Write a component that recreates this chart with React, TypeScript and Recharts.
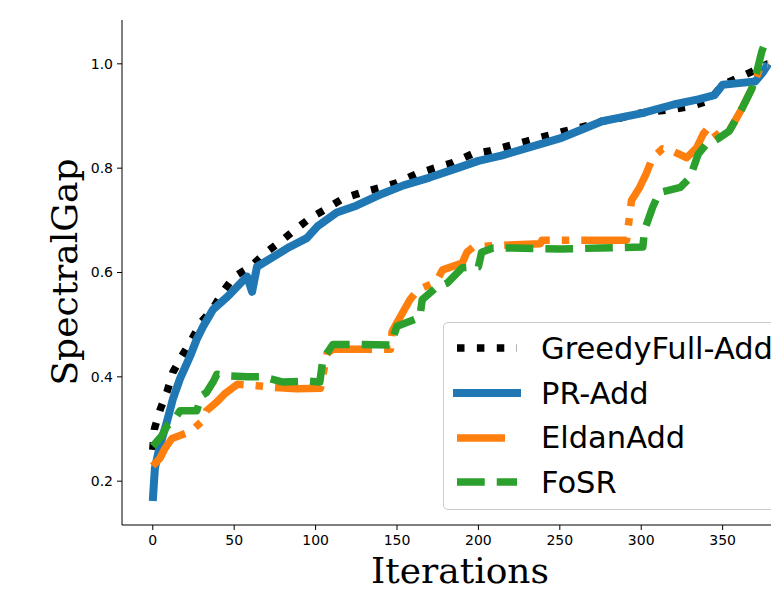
import React from 'react';
import { LineChart, Line, XAxis, YAxis, Legend, Label } from 'recharts';

// iterations / spectral gap
const greedyIt = [0, 1, 4.4, 8.7, 12.4, 17.9, 24, 30, 37, 43, 50, 60, 69, 78, 87, 96.5, 107, 117, 128, 140, 150, 162, 173, 184, 196, 207, 219, 230, 242, 253, 264, 276, 287, 298, 320, 331, 342, 350, 368, 374, 378];
const greedyVal = [0.26, 0.3, 0.336, 0.371, 0.409, 0.44, 0.472, 0.506, 0.531, 0.563, 0.592, 0.611, 0.637, 0.658, 0.681, 0.704, 0.723, 0.742, 0.753, 0.763, 0.772, 0.789, 0.8, 0.81, 0.827, 0.833, 0.843, 0.852, 0.862, 0.871, 0.879, 0.89, 0.896, 0.905, 0.913, 0.919, 0.93, 0.96, 0.985, 0.995, 1.0];

const prIt = [0, 1.3, 4.4, 8.7, 12.4, 16.7, 23, 27, 31, 37, 46, 54, 58, 61, 64, 74, 84, 94.6, 101, 113, 125, 141, 154, 170, 187, 200, 214, 250, 276, 300, 320, 335, 345, 350, 360, 370, 375, 378];
const prVal = [0.162, 0.225, 0.268, 0.314, 0.358, 0.396, 0.44, 0.472, 0.497, 0.529, 0.554, 0.58, 0.592, 0.563, 0.611, 0.63, 0.649, 0.666, 0.688, 0.715, 0.728, 0.751, 0.767, 0.782, 0.8, 0.814, 0.824, 0.857, 0.89, 0.905, 0.922, 0.932, 0.94, 0.96, 0.963, 0.966, 0.985, 1.0];

const eldanIt = [0, 4.4, 7.5, 11.8, 23, 30, 33, 39.4, 44, 52, 64, 74, 88.5, 103, 107, 110.6, 146, 147, 150, 158, 163, 174, 178, 190, 193, 197, 213, 238, 239, 291, 294, 299, 303, 307, 313, 319, 328, 334, 338, 342, 347, 354, 362, 368, 374, 378];
const eldanVal = [0.229, 0.244, 0.263, 0.282, 0.295, 0.314, 0.335, 0.352, 0.367, 0.386, 0.383, 0.38, 0.377, 0.378, 0.445, 0.453, 0.453, 0.487, 0.504, 0.548, 0.567, 0.582, 0.605, 0.618, 0.639, 0.649, 0.652, 0.655, 0.662, 0.662, 0.738, 0.763, 0.789, 0.82, 0.837, 0.833, 0.82, 0.839, 0.865, 0.88, 0.86, 0.871, 0.915, 0.953, 1.0, 1.0];

const fosrIt = [0, 5.6, 8.7, 12.4, 16.7, 27, 30, 33, 37, 39.4, 45.5, 58, 67.6, 80, 94.6, 102.6, 104.5, 110.6, 127, 146, 150, 164, 165.5, 174, 181, 190, 200, 202, 209, 221, 250, 275, 301, 302, 307, 311, 324, 330, 335, 340, 347, 354, 362, 368, 371, 374, 376];
const fosrVal = [0.267, 0.287, 0.306, 0.314, 0.335, 0.335, 0.364, 0.37, 0.39, 0.405, 0.402, 0.4, 0.4, 0.39, 0.392, 0.39, 0.434, 0.462, 0.462, 0.461, 0.497, 0.514, 0.548, 0.571, 0.58, 0.609, 0.611, 0.639, 0.647, 0.647, 0.645, 0.647, 0.649, 0.681, 0.725, 0.753, 0.763, 0.782, 0.827, 0.846, 0.856, 0.871, 0.915, 0.953, 0.985, 1.023, 1.04];

const xTicks = [0, 50, 100, 150, 200, 250, 300, 350];
const yTicks = [0.2, 0.4, 0.6, 0.8, 1.0];

const zip = (its: number[], vals: number[]) => its.map((it, i) => ({ it, v: vals[i] }));

const series = [
  { name: 'GreedyFull-Add', data: zip(greedyIt, greedyVal), color: '#000000', dash: '7.5 12.4', width: 7.5 },
  { name: 'PR-Add', data: zip(prIt, prVal), color: '#1f77b4', dash: undefined, width: 8 },
  { name: 'EldanAdd', data: zip(eldanIt, eldanVal), color: '#ff7f0e', dash: '48 12 7.5 12', width: 7.5 },
  { name: 'FoSR', data: zip(fosrIt, fosrVal), color: '#2ca02c', dash: '27.75 12', width: 7.5 },
];

const tickStyle = { fontFamily: '"DejaVu Sans", sans-serif', fontSize: 14, fill: '#000' };

const LegendBox = () => (
  <div
    style={{
      position: 'absolute',
      left: 443,
      top: 322,
      width: 360,
      height: 188,
      border: '1px solid #cccccc',
      borderRadius: 5,
      background: 'rgba(255,255,255,0.8)',
      boxSizing: 'border-box',
      fontFamily: '"DejaVu Sans", sans-serif',
      fontSize: 30.5,
      color: '#000',
      paddingTop: 3,
    }}
  >
    {series.map((s) => (
      <div key={s.name} style={{ height: 44.7, display: 'flex', alignItems: 'center', whiteSpace: 'nowrap' }}>
        <svg width={97} height={20} style={{ flex: 'none' }}>
          <line
            x1={13}
            x2={73}
            y1={10}
            y2={10}
            stroke={s.color}
            strokeWidth={s.width}
            strokeDasharray={s.dash}
            strokeLinecap={s.dash ? 'butt' : 'square'}
          />
        </svg>
        <span>{s.name}</span>
      </div>
    ))}
  </div>
);

export default function App() {
  return (
    <div style={{ position: 'fixed', left: 0, top: 0, width: 771, height: 590, overflow: 'hidden', background: '#fff' }}>
      <LineChart width={840} height={590} margin={{ top: 20, right: 41, bottom: 35, left: 62 }}>
        <XAxis
          type="number"
          dataKey="it"
          domain={[-18.9, 396.9]}
          allowDataOverflow
          ticks={xTicks}
          height={30}
          stroke="#000"
          tick={tickStyle}
          tickSize={5}
          tickMargin={5}
        >
          <Label
            content={() => (
              <text x={460} y={583} textAnchor="middle" fontFamily='"DejaVu Serif", serif' fontSize={36} fill="#000">
                Iterations
              </text>
            )}
          />
        </XAxis>
        <YAxis
          type="number"
          domain={[0.116, 1.084]}
          allowDataOverflow
          ticks={yTicks}
          width={60}
          stroke="#000"
          tick={tickStyle}
          tickSize={5}
          tickMargin={4}
          tickFormatter={(v: number) => v.toFixed(1)}
        >
          <Label
            content={() => (
              <text
                x={77}
                y={272}
                transform="rotate(-90, 77, 272)"
                textAnchor="middle"
                fontFamily='"DejaVu Serif", serif'
                fontSize={36}
                fill="#000"
              >
                SpectralGap
              </text>
            )}
          />
        </YAxis>
        <Legend layout="vertical" align="center" verticalAlign="middle" content={() => <LegendBox />} wrapperStyle={{ left: 0, top: 0, width: 0, height: 0 }} />
        {series.map((s) => (
          <Line
            key={s.name}
            data={s.data}
            dataKey="v"
            name={s.name}
            type="linear"
            stroke={s.color}
            strokeWidth={s.width}
            strokeDasharray={s.dash}
            strokeLinejoin="round"
            dot={false}
            activeDot={false}
            isAnimationActive={false}
          />
        ))}
      </LineChart>
    </div>
  );
}
